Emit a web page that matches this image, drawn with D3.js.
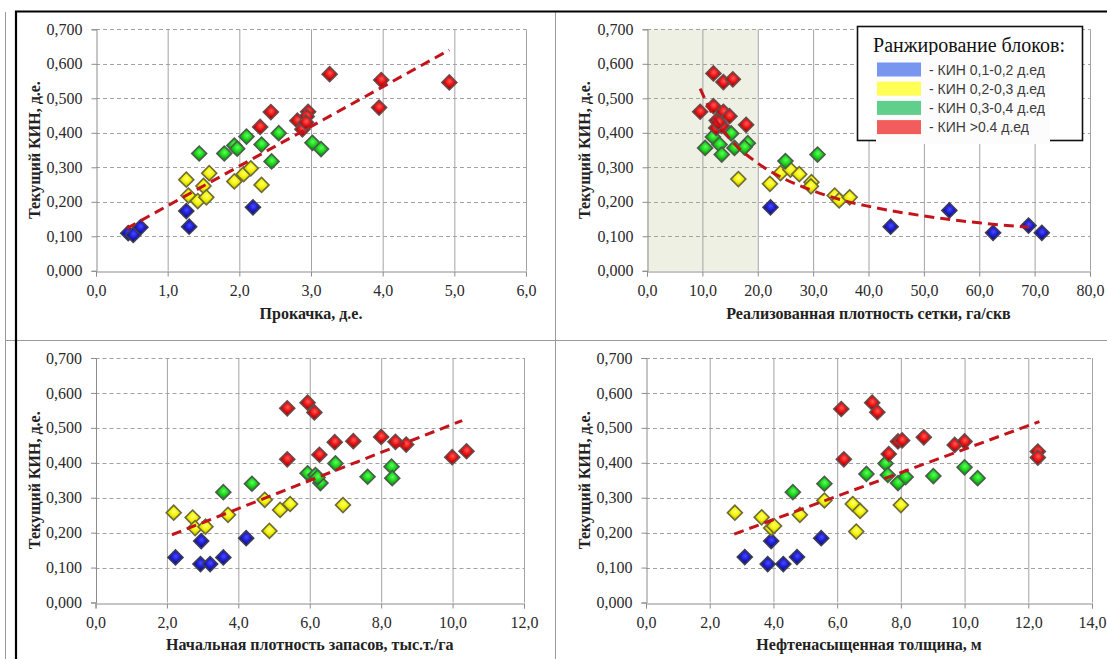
<!DOCTYPE html>
<html>
<head>
<meta charset="utf-8">
<script src="https://cdn.jsdelivr.net/npm/d3@7"></script>
<style>
  body { margin: 0; background: #fff; }
  text { font-family: "Liberation Serif", "Times New Roman", serif; }
  text.sans { font-family: "Liberation Sans", Arial, sans-serif; }
</style>
</head>
<body>
<svg id="chart" width="1107" height="659"></svg>
<script>
"use strict";

// ---- data: [x, current oil recovery factor] ----
const kinTicks = [0, 0.1, 0.2, 0.3, 0.4, 0.5, 0.6, 0.7];
const kinLimits = [0.2, 0.3, 0.4];
const legendLabels = ["- КИН 0,1-0,2 д.ед", "- КИН 0,2-0,3 д.ед", "- КИН 0,3-0,4 д.ед", "- КИН >0.4 д.ед"];

const pumpTicks = [0, 1, 2, 3, 4, 5, 6];
const pumpPoints = [
    [0.45, 0.109], [0.52, 0.104], [0.62, 0.126], [1.26, 0.173], [1.30, 0.128], [2.19, 0.184],
    [1.26, 0.264], [1.29, 0.218], [1.42, 0.202], [1.50, 0.246], [1.54, 0.213], [1.58, 0.283],
    [1.93, 0.259], [2.06, 0.280], [2.16, 0.297], [2.31, 0.249],
    [1.44, 0.340], [1.79, 0.340], [1.93, 0.363], [1.97, 0.354], [2.10, 0.389], [2.31, 0.366],
    [2.55, 0.399], [2.45, 0.317], [3.02, 0.371], [3.14, 0.353],
    [3.26, 0.570], [3.98, 0.553], [4.93, 0.546], [3.95, 0.473], [2.44, 0.460], [2.29, 0.417],
    [2.81, 0.435], [2.96, 0.461], [2.94, 0.447], [2.91, 0.421], [2.88, 0.410], [2.93, 0.430]
];
const pumpTrend = [[0.43, 0.123], [4.93, 0.640]];

const gridTicks = [0, 10, 20, 30, 40, 50, 60, 70, 80];
const gridZone = [0, 20];
const gridPoints = [
    [22.3, 0.184], [44.0, 0.128], [54.6, 0.175], [62.5, 0.110], [68.9, 0.131], [71.3, 0.110],
    [16.5, 0.266], [22.2, 0.252], [24.1, 0.283], [25.9, 0.293], [27.5, 0.280], [29.7, 0.257],
    [29.6, 0.245], [33.9, 0.218], [34.7, 0.204], [36.6, 0.213],
    [10.5, 0.356], [11.9, 0.388], [13.1, 0.366], [13.5, 0.337], [15.2, 0.398], [15.8, 0.356],
    [18.2, 0.370], [17.6, 0.358], [25.0, 0.318], [30.8, 0.337],
    [12.0, 0.572], [13.8, 0.547], [15.5, 0.555], [9.6, 0.461], [12.0, 0.477], [13.8, 0.461],
    [14.9, 0.448], [12.6, 0.436], [12.5, 0.414], [13.5, 0.420], [17.9, 0.423], [12.9, 0.430]
];
const gridTrend = [[9.6, 0.528], [12, 0.449], [15, 0.382], [20, 0.312], [25, 0.265], [30, 0.232],
    [35, 0.206], [40, 0.187], [50, 0.159], [60, 0.139], [69, 0.126]];

const reserveTicks = [0, 2, 4, 6, 8, 10, 12];
const reservePoints = [
    [2.24, 0.129], [2.94, 0.110], [2.96, 0.176], [3.21, 0.110], [3.58, 0.129], [4.22, 0.184],
    [2.19, 0.257], [2.72, 0.243], [2.79, 0.213], [3.08, 0.217], [3.71, 0.251], [4.74, 0.294],
    [4.87, 0.205], [5.17, 0.265], [5.45, 0.282], [6.93, 0.279],
    [3.58, 0.316], [4.38, 0.340], [5.94, 0.370], [6.16, 0.365], [6.30, 0.342], [6.22, 0.358],
    [6.72, 0.398], [7.62, 0.360], [8.29, 0.389], [8.31, 0.356],
    [5.37, 0.556], [5.94, 0.572], [6.13, 0.544], [5.37, 0.410], [6.27, 0.423], [6.70, 0.459],
    [7.22, 0.462], [8.00, 0.474], [8.40, 0.460], [8.70, 0.452], [9.99, 0.416], [10.39, 0.433]
];
const reserveTrend = [[2.14, 0.194], [10.27, 0.521]];

const thickTicks = [0, 2, 4, 6, 8, 10, 12, 14];
const thickPoints = [
    [3.10, 0.130], [3.82, 0.110], [3.93, 0.176], [4.31, 0.110], [4.74, 0.130], [5.50, 0.184],
    [2.79, 0.257], [3.63, 0.244], [3.93, 0.213], [4.02, 0.219], [4.83, 0.251], [5.60, 0.292],
    [6.49, 0.282], [6.72, 0.262], [6.60, 0.203], [8.00, 0.279],
    [4.61, 0.316], [5.60, 0.340], [6.92, 0.368], [7.52, 0.398], [7.59, 0.365], [7.91, 0.342],
    [8.15, 0.359], [9.02, 0.362], [10.00, 0.387], [10.41, 0.356],
    [6.13, 0.554], [7.10, 0.572], [7.26, 0.545], [6.21, 0.410], [7.62, 0.425], [7.91, 0.461],
    [8.04, 0.464], [8.72, 0.473], [9.69, 0.451], [10.00, 0.461], [12.30, 0.432], [12.30, 0.415]
];
const thickTrend = [[2.77, 0.196], [12.35, 0.518]];

// ---- drawing ----
const locale = d3.formatLocale({decimal: ",", thousands: " ", grouping: [3], currency: ["", ""]});
const fmtY = locale.format(".3f");
const fmtX = locale.format(".1f");

const svg = d3.select("#chart");
svg.append("rect").attr("width", 1107).attr("height", 659).attr("fill", "#fff");

const defs = svg.append("defs");
const markerStyles = [
    {id: "mBlue",   hi: "#4a4aff", mid: "#1e1ed8", lo: "#101080", stroke: "#3c3c55"},
    {id: "mYellow", hi: "#ffff80", mid: "#f6f600", lo: "#c8c800", stroke: "#6e6a3a"},
    {id: "mGreen",  hi: "#5cff5c", mid: "#1ed81e", lo: "#0f9a0f", stroke: "#4b5e4b"},
    {id: "mRed",    hi: "#ff5a5a", mid: "#ec1414", lo: "#a80000", stroke: "#6a4a4a"}
];
markerStyles.forEach(m => {
    let grad = defs.append("radialGradient").attr("id", m.id)
        .attr("cx", "45%").attr("cy", "40%").attr("r", "65%");
    grad.append("stop").attr("offset", "0%").attr("stop-color", m.hi);
    grad.append("stop").attr("offset", "55%").attr("stop-color", m.mid);
    grad.append("stop").attr("offset", "100%").attr("stop-color", m.lo);
});
const kinClass = d3.scaleThreshold().domain(kinLimits).range(markerStyles);
const diamond = d3.symbol(d3.symbolSquare, 112);

function drawPanel(p){
    let x = d3.scaleLinear().domain([0, d3.max(p.ticks)]).range([p.left, p.right]);
    let y = d3.scaleLinear().domain([0, 0.7]).range([p.bottom, p.top]);
    let g = svg.append("g");

    if (p.zone) {
        g.append("rect")
            .attr("x", x(p.zone[0])).attr("y", y(0.7))
            .attr("width", x(p.zone[1]) - x(p.zone[0]))
            .attr("height", y(0) - y(0.7))
            .attr("fill", "#eef0e3");
    }

    // grid
    g.selectAll(".vgrid").data(p.ticks.slice(1)).enter().append("line")
        .attr("x1", d => x(d) + 0.5).attr("x2", d => x(d) + 0.5)
        .attr("y1", y(0.7)).attr("y2", y(0))
        .attr("stroke", "#a3a3a3").attr("stroke-width", 1);
    g.selectAll(".hgrid").data(kinTicks.slice(1)).enter().append("line")
        .attr("x1", x(0)).attr("x2", x.range()[1])
        .attr("y1", d => Math.round(y(d)) + 0.5).attr("y2", d => Math.round(y(d)) + 0.5)
        .attr("stroke", "#a3a3a3").attr("stroke-width", 1)
        .attr("stroke-dasharray", "4,3");

    // axes
    let yAxis = d3.axisLeft(y).tickValues(kinTicks).tickFormat(fmtY).tickSize(5).tickPadding(9);
    let xAxis = d3.axisBottom(x).tickValues(p.ticks).tickFormat(fmtX).tickSize(5).tickPadding(8);
    let ya = g.append("g").attr("transform", "translate(" + (x(0) + 0.5) + ",0)").call(yAxis);
    let xa = g.append("g").attr("transform", "translate(0," + (Math.round(y(0)) + 0.5) + ")").call(xAxis);
    [ya, xa].forEach(a => {
        a.select(".domain").attr("stroke", "#8c8c8c");
        a.selectAll(".tick line").attr("stroke", "#8c8c8c");
        a.selectAll(".tick text")
            .attr("font-family", "Liberation Serif, serif")
            .attr("font-size", 16).attr("fill", "#2a2a2a");
    });

    // points
    g.selectAll(".pt").data(p.points).enter().append("path")
        .attr("d", diamond)
        .attr("transform", d => "translate(" + x(d[0]) + "," + y(d[1]) + ") rotate(45)")
        .attr("fill", d => "url(#" + kinClass(d[1]).id + ")")
        .attr("stroke", d => kinClass(d[1]).stroke)
        .attr("stroke-width", 1.6);

    // trend
    let line = d3.line().x(d => x(d[0])).y(d => y(d[1])).curve(d3.curveMonotoneX);
    g.append("path").datum(p.trend)
        .attr("d", line)
        .attr("fill", "none")
        .attr("stroke", "#c3131b")
        .attr("stroke-width", 3)
        .attr("stroke-dasharray", "10,6");

    // titles
    g.append("text")
        .attr("transform", "translate(" + p.yTitleX + "," + ((y(0) + y(0.7)) / 2) + ") rotate(-90)")
        .attr("dy", "0.35em")
        .attr("text-anchor", "middle")
        .attr("font-size", 16).attr("font-weight", "bold").attr("fill", "#222")
        .text("Текущий КИН, д.е.");
    g.append("text")
        .attr("x", (x.range()[0] + x.range()[1]) / 2)
        .attr("y", p.xTitleY)
        .attr("dy", "0.35em")
        .attr("text-anchor", "middle")
        .attr("font-size", 16).attr("font-weight", "bold").attr("fill", "#222")
        .text(p.title);
}

drawPanel({left: 96, right: 526, top: 29.3, bottom: 270.8, ticks: pumpTicks,
    points: pumpPoints, trend: pumpTrend, title: "Прокачка, д.е.", yTitleX: 34.5, xTitleY: 313});
drawPanel({left: 647, right: 1090, top: 29.3, bottom: 270.8, ticks: gridTicks, zone: gridZone,
    points: gridPoints, trend: gridTrend, title: "Реализованная плотность сетки, га/скв",
    yTitleX: 584.5, xTitleY: 313});
drawPanel({left: 95.5, right: 524, top: 358, bottom: 602.5, ticks: reserveTicks,
    points: reservePoints, trend: reserveTrend, title: "Начальная плотность запасов, тыс.т./га",
    yTitleX: 34.5, xTitleY: 644});
drawPanel({left: 646, right: 1092, top: 358, bottom: 602.5, ticks: thickTicks,
    points: thickPoints, trend: thickTrend, title: "Нефтенасыщенная толщина, м",
    yTitleX: 584.5, xTitleY: 644});

// legend
const legend = svg.append("g");
legend.append("rect").attr("x", 857.5).attr("y", 26.5).attr("width", 225).attr("height", 114)
    .attr("fill", "#fff").attr("stroke", "#111").attr("stroke-width", 1.6);
legend.append("text").attr("x", 969).attr("y", 52).attr("text-anchor", "middle")
    .attr("font-size", 20).attr("fill", "#111").text("Ранжирование блоков:");
legend.append("rect").attr("x", 876).attr("y", 55).attr("width", 174).attr("height", 89)
    .attr("fill", "#fcfcfc");
const swatchColors = ["#7896ef", "#ffff55", "#60cf8c", "#f25c5c"];
const rows = legend.selectAll(".row").data(legendLabels).enter().append("g")
    .attr("transform", (d, i) => "translate(877," + (62.5 + i * 19.2) + ")");
rows.append("rect").attr("width", 44).attr("height", 14)
    .attr("fill", (d, i) => swatchColors[i]);
rows.append("text").attr("class", "sans").attr("x", 52).attr("y", 12)
    .attr("font-size", 14).attr("fill", "#3c3c3c")
    .text(d => d);

// table frame around the four charts
svg.append("line").attr("x1", 5.5).attr("x2", 5.5).attr("y1", 12).attr("y2", 659)
    .attr("stroke", "#9a9a9a");
svg.append("line").attr("x1", 555.5).attr("x2", 555.5).attr("y1", 12).attr("y2", 659)
    .attr("stroke", "#9a9a9a");
svg.append("line").attr("x1", 5).attr("x2", 1107).attr("y1", 340.5).attr("y2", 340.5)
    .attr("stroke", "#9a9a9a");
svg.append("path").attr("d", "M16,659V11.5H1107")
    .attr("fill", "none").attr("stroke", "#000").attr("stroke-width", 2.2);
</script>
</body>
</html>
